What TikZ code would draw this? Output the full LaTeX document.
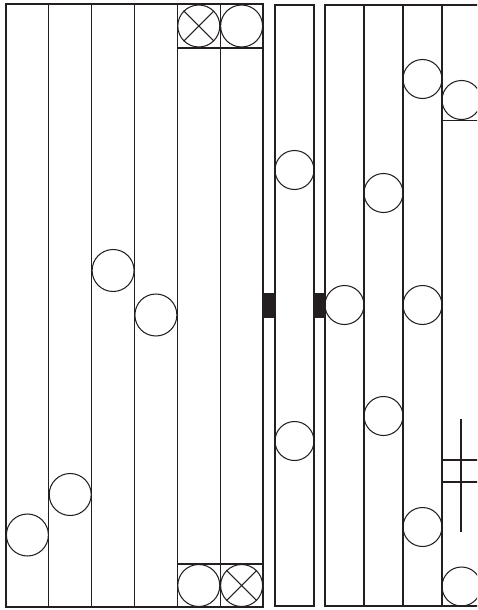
\documentclass[tikz,border=0pt]{standalone}
\definecolor{ink}{HTML}{231F20}
\begin{document}
\begin{tikzpicture}[x=1pt,y=-1pt,line width=1.05pt,draw=ink,
  circL/.style={circle,draw=ink,line width=1.05pt,minimum size=42pt,inner sep=0pt},
  circR/.style={circle,draw=ink,line width=1.05pt,minimum size=39pt,inner sep=0pt},
  bar/.style={fill=ink,draw=none}]
\useasboundingbox (0,0) rectangle (477,610);
\begin{scope}
\clip (0,0) rectangle (477,610);
% left block
\draw (6,4) rectangle (263,607);
\foreach \x in {48.8,91.7,134.5,177.3,220.2} \draw (\x,4) -- (\x,607);
\draw (177.3,48) -- (263,48);
\draw (177.3,564) -- (263,564);
% middle column
\draw (275,5) rectangle (314,606);
% right block
\draw (481,5) -- (325,5) -- (325,606) -- (481,606);
\foreach \x in {364,403,442} \draw (\x,5) -- (\x,606);
\draw (442,120.5) -- (481,120.5);
\draw (442,460) -- (481,460);
\draw (442,482) -- (481,482);
\draw (461,419) -- (461,532);
% black connectors
\fill[bar] (263,293) rectangle (275,318);
\fill[bar] (314,293) rectangle (325,318);
% circles left block
\node[circL] (a1) at (27.4,535) {};
\node[circL] (a2) at (70.2,494.5) {};
\node[circL] (a3) at (113.1,270.5) {};
\node[circL] (a4) at (155.9,315) {};
\node[circL] (t5) at (198.8,26) {};
\node[circL] (t6) at (241.6,26) {};
\node[circL] (b5) at (198.8,585.5) {};
\node[circL] (b6) at (241.6,585.5) {};
\draw (t5.north west) -- (t5.south east) (t5.north east) -- (t5.south west);
\draw (b6.north west) -- (b6.south east) (b6.north east) -- (b6.south west);
% middle column circles
\node[circR] (m1) at (294.5,170) {};
\node[circR] (m2) at (294.5,441) {};
% right block circles
\node[circR] (r1) at (344.5,305) {};
\node[circR] (r2a) at (383.5,193) {};
\node[circR] (r2b) at (383.5,416) {};
\node[circR] (r3a) at (422.5,79) {};
\node[circR] (r3b) at (422.5,305) {};
\node[circR] (r3c) at (422.5,527) {};
\node[circR] (r4a) at (461.5,100) {};
\node[circR] (r4b) at (461.5,586.5) {};
\end{scope}
\end{tikzpicture}
\end{document}
